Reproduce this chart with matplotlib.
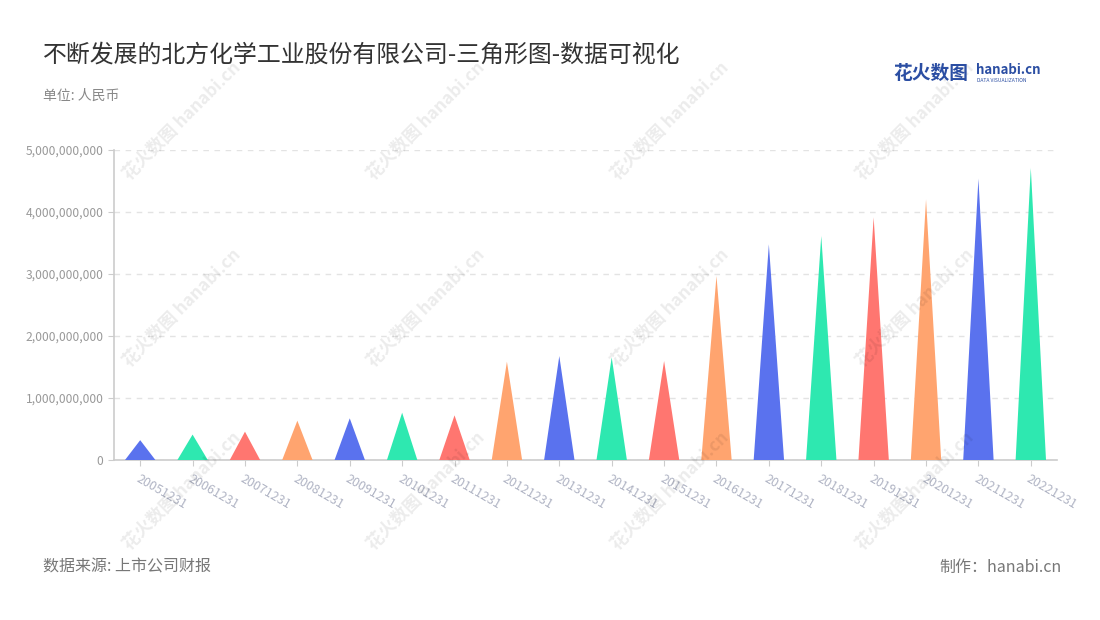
import matplotlib
matplotlib.use("Agg")
import matplotlib.pyplot as plt
from matplotlib.ticker import FuncFormatter
import numpy as np

plt.rcParams['font.family'] = ['Noto Sans CJK SC', 'DejaVu Sans']

# 报告期 / 营业收入(元)
dates = ['20051231', '20061231', '20071231', '20081231', '20091231', '20101231',
         '20111231', '20121231', '20131231', '20141231', '20151231', '20161231',
         '20171231', '20181231', '20191231', '20201231', '20211231', '20221231']
values = [0.32e9, 0.41e9, 0.457e9, 0.634e9, 0.672e9, 0.763e9,
          0.72e9, 1.586e9, 1.677e9, 1.656e9, 1.597e9, 2.968e9,
          3.479e9, 3.613e9, 3.914e9, 4.204e9, 4.538e9, 4.71e9]
palette = ['#5a72ee', '#2ee8b0', '#ff7670', '#ffa46f']
yticks = [0, 1e9, 2e9, 3e9, 4e9, 5e9]

fig = plt.figure(figsize=(11, 6.2), dpi=100)
ax = fig.add_axes([114/1100, 1-460/620, (1057-114)/1100, 310/620])

half = 0.29
for i, v in enumerate(values):
    ax.fill([i-half, i, i+half], [0, v, 0], color=palette[i % 4], lw=0, zorder=3)

ax.set_xlim(-0.5, len(dates)-0.5)
ax.set_ylim(0, 5e9)
ax.set_xticks(range(len(dates)))
ax.set_xticklabels(dates, rotation=-30, ha='left', va='top',
                   rotation_mode='anchor', fontsize=9, color='#b0b4c4')
ax.set_yticks(yticks)
ax.yaxis.set_major_formatter(FuncFormatter(lambda v, p: '{:,.0f}'.format(v)))
ax.tick_params(axis='y', labelsize=8.7, colors='#999999', length=4, color='#cccccc')
ax.tick_params(axis='x', length=4, color='#cccccc', pad=5)
ax.grid(axis='y', color='#e3e3e3', ls=(0, (4, 4)), lw=1)
ax.set_axisbelow(True)
for s in ['top', 'right']:
    ax.spines[s].set_visible(False)
for s in ['left', 'bottom']:
    ax.spines[s].set_color('#cccccc')
    ax.spines[s].set_linewidth(1.2)

# 水印
for wx in [132, 376, 620, 865]:
    for wy in [183, 370, 553]:
        fig.text(wx/1100, 1-wy/620, '花火数图 hanabi.cn', rotation=45,
                 rotation_mode='anchor', fontsize=12.5, color='#000000',
                 alpha=0.08, fontweight='bold', ha='left', va='bottom')

fig.text(43/1100, 1-55/620, '不断发展的北方化学工业股份有限公司-三角形图-数据可视化',
         fontsize=17.2, color='#333333', va='center')
fig.text(43/1100, 1-96/620, '单位: 人民币', fontsize=10, color='#888888', va='center')
fig.text(43/1100, 1-567/620, '数据来源: 上市公司财报', fontsize=11.5, color='#777777', va='center')
fig.text(1062/1100, 1-567/620, '制作：hanabi.cn', fontsize=11.5, color='#777777',
         va='center', ha='right')

# logo
fig.text(893/1100, 1-73/620, '花火数图', fontsize=13.5, color='#2b4ea3',
         fontweight='bold', va='center')
fig.text(976/1100, 1-70/620, 'hanabi.cn', fontsize=9.5, color='#2b4ea3',
         fontweight='bold', va='center')
fig.text(977/1100, 1-80/620, 'DATA VISUALIZATION', fontsize=3.6, color='#2b4ea3',
         va='center')

fig.savefig('out.png', dpi=100)
